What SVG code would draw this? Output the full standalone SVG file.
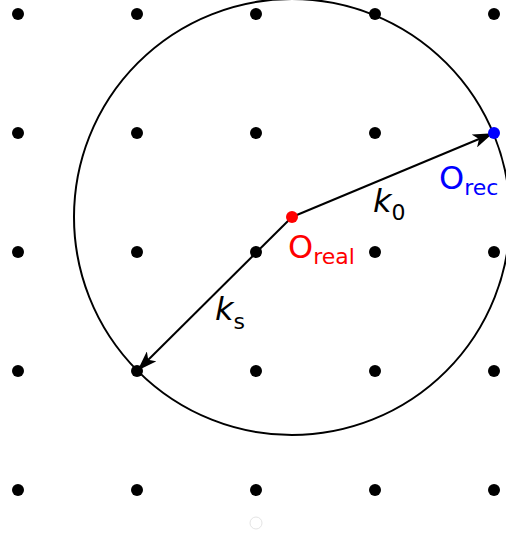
<svg xmlns="http://www.w3.org/2000/svg" width="506" height="538" viewBox="0 0 506 538">
<style>
.dot{fill:#000}
.lbl{font-family:"DejaVu Sans",sans-serif;font-size:32px}
.sub{font-size:22px}
.ln{stroke:#000;stroke-width:2;fill:none}
</style>
<defs>
<marker id="ah" viewBox="0 0 20 14" refX="18" refY="7" markerWidth="20" markerHeight="14" markerUnits="userSpaceOnUse" orient="auto">
<path d="M0,0 L20,7 L0,14 L5,7 Z" fill="#000"/>
</marker>
</defs>
<rect width="506" height="538" fill="#fff"/>
<g id="lattice">
<circle class="dot" cx="18" cy="14" r="6"/><circle class="dot" cx="137" cy="14" r="6"/><circle class="dot" cx="256" cy="14" r="6"/><circle class="dot" cx="375" cy="14" r="6"/><circle class="dot" cx="494" cy="14" r="6"/>
<circle class="dot" cx="18" cy="133" r="6"/><circle class="dot" cx="137" cy="133" r="6"/><circle class="dot" cx="256" cy="133" r="6"/><circle class="dot" cx="375" cy="133" r="6"/>
<circle class="dot" cx="18" cy="252" r="6"/><circle class="dot" cx="137" cy="252" r="6"/><circle class="dot" cx="256" cy="252" r="6"/><circle class="dot" cx="375" cy="252" r="6"/><circle class="dot" cx="494" cy="252" r="6"/>
<circle class="dot" cx="18" cy="371" r="6"/><circle class="dot" cx="137" cy="371" r="6"/><circle class="dot" cx="256" cy="371" r="6"/><circle class="dot" cx="375" cy="371" r="6"/><circle class="dot" cx="494" cy="371" r="6"/>
<circle class="dot" cx="18" cy="490" r="6"/><circle class="dot" cx="137" cy="490" r="6"/><circle class="dot" cx="256" cy="490" r="6"/><circle class="dot" cx="375" cy="490" r="6"/><circle class="dot" cx="494" cy="490" r="6"/>
<circle cx="256" cy="523" r="6" fill="none" stroke="#e4e4e4" stroke-width="1"/>
</g>
<g id="ewald-sphere">
<circle cx="292" cy="217" r="218" fill="none" stroke="#000" stroke-width="2"/>
</g>
<g id="connectors">
<line class="ln" x1="292" y1="217" x2="491" y2="134" marker-end="url(#ah)"/>
<line class="ln" x1="292" y1="217" x2="139" y2="369" marker-end="url(#ah)"/>
</g>
<g id="O-real">
<circle cx="292" cy="217" r="6" fill="#f00"/>
<text class="lbl" x="288" y="258" fill="#f00">O<tspan class="sub" dy="6">real</tspan></text>
</g>
<g id="O-rec">
<circle cx="494" cy="133" r="6" fill="#00f"/>
<text class="lbl" x="439" y="189" fill="#00f">O<tspan class="sub" dy="6">rec</tspan></text>
</g>
<g id="k0-label">
<text class="lbl" x="373" y="212" font-style="italic">k<tspan class="sub" font-style="normal" dy="8">0</tspan></text>
</g>
<g id="ks-label">
<text class="lbl" x="215" y="320" font-style="italic">k<tspan class="sub" font-style="normal" dy="9">s</tspan></text>
</g>
</svg>
